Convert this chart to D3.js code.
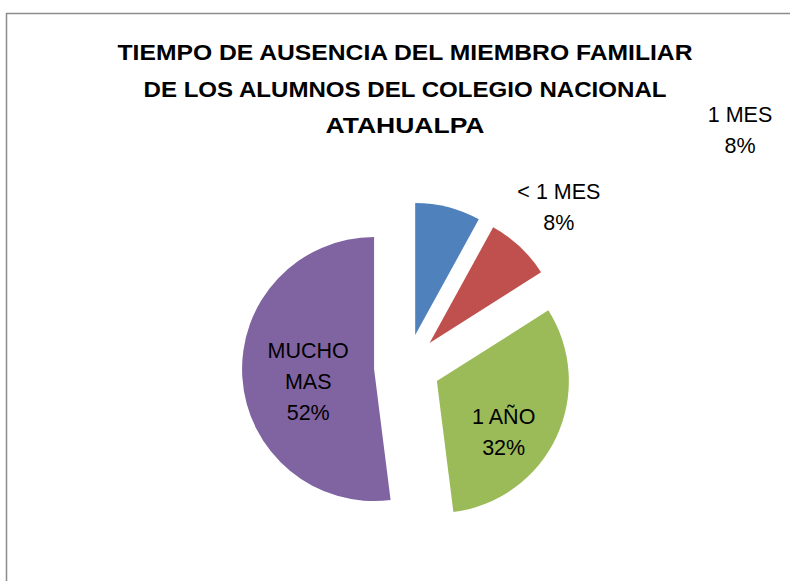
<!DOCTYPE html>
<html>
<head>
<meta charset="utf-8">
<script src="https://cdn.jsdelivr.net/npm/d3@7"></script>
<style>
  body { margin: 0; background: white; overflow: hidden; }
  svg { display: block; }
</style>
</head>
<body>
<script>
// data
const categories = ["1 MES", "< 1 MES", "1 AÑO", "MUCHO MAS"];
const percents = [8, 8, 32, 52];
const colors = ["#4F81BD", "#C0504D", "#9BBB59", "#8064A2"];
const titleLines = [
  "TIEMPO DE AUSENCIA DEL MIEMBRO FAMILIAR",
  "DE LOS ALUMNOS DEL COLEGIO NACIONAL",
  "ATAHUALPA"
];
const titleWidths = [575, 523, 159];

const width = 790, height = 581;
const cx = 407, cy = 367, radius = 132, explode = 33;

const svg = d3.select("body").append("svg")
  .attr("width", width)
  .attr("height", height);

// chart frame: only the top and left edges are inside the window
svg.append("path")
  .attr("d", `M6.5,${height + 5}V13.5H${width + 5}`)
  .attr("fill", "none")
  .attr("stroke", "#8c8c8c")
  .attr("stroke-width", 1.5);

// title
svg.append("g")
  .selectAll("text")
  .data(titleLines)
  .enter()
  .append("text")
  .attr("x", 405)
  .attr("y", (d, i) => 60 + i * 36.5)
  .attr("text-anchor", "middle")
  .attr("textLength", (d, i) => titleWidths[i])
  .attr("lengthAdjust", "spacingAndGlyphs")
  .style("font-family", "Liberation Sans, Arial, sans-serif")
  .style("font-weight", "bold")
  .style("font-size", "22.5px")
  .attr("fill", "#000")
  .text(d => d);

const data = categories.map((c, i) => ({ name: c, value: percents[i], color: colors[i] }));

const pie = d3.pie().sort(null).value(d => d.value);
const arcs = pie(data);
const arc = d3.arc().innerRadius(0).outerRadius(radius);

const offset = a => {
  const mid = (a.startAngle + a.endAngle) / 2;
  return [Math.sin(mid) * explode, -Math.cos(mid) * explode];
};

const slices = svg.append("g").attr("transform", `translate(${cx},${cy})`);

slices.selectAll("path")
  .data(arcs)
  .enter()
  .append("path")
  .attr("transform", d => `translate(${offset(d)})`)
  .attr("d", arc)
  .attr("fill", d => d.data.color);

// label placement: radius factor along the slice bisector (+ nudge), or a moved label
const labelPlace = [
  { x: 740, y: 130 },
  { k: 1.42, dx: 1, dy: 1 },
  { k: 0.66, dx: -12, dy: 14 },
  { k: 0.5, dx: 0, dy: 8 }
];
const labelLines = d => {
  const words = d.data.name === "MUCHO MAS" ? ["MUCHO", "MAS"] : [d.data.name];
  return words.concat([d.data.value + "%"]);
};

const lineH = 31;
arcs.forEach((d, i) => {
  const lp = labelPlace[i];
  let x, y;
  if (lp.k !== undefined) {
    const mid = (d.startAngle + d.endAngle) / 2;
    const o = offset(d);
    x = cx + o[0] + Math.sin(mid) * radius * lp.k + lp.dx;
    y = cy + o[1] - Math.cos(mid) * radius * lp.k + lp.dy;
  } else {
    x = lp.x; y = lp.y;
  }
  const lines = labelLines(d);
  const t = svg.append("text")
    .attr("text-anchor", "middle")
    .style("font-family", "Liberation Sans, Arial, sans-serif")
    .style("font-size", "21.5px")
    .attr("fill", "#000");
  const y0 = y - (lines.length - 1) * lineH / 2 + 7.5;
  lines.forEach((l, j) => {
    t.append("tspan")
      .attr("x", x)
      .attr("y", y0 + j * lineH)
      .text(l);
  });
});
</script>
</body>
</html>
